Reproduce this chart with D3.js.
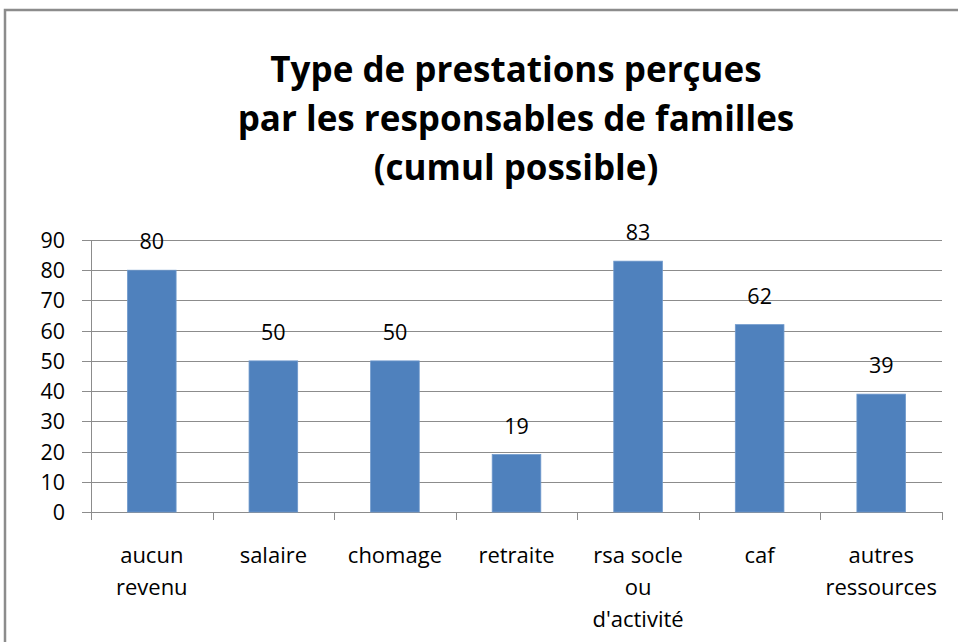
<!DOCTYPE html>
<html><head><meta charset="utf-8">
<script src="https://cdn.jsdelivr.net/npm/d3@7"></script>
<style>body{margin:0;background:#fff}svg{display:block}</style>
</head><body>
<script>
const categories = [["aucun","revenu"],["salaire"],["chomage"],["retraite"],["rsa socle","ou","d'activité"],["caf"],["autres","ressources"]];
const values = [80,50,50,19,83,62,39];
const yTicks = [0,10,20,30,40,50,60,70,80,90];
const titleLines = ["Type de prestations perçues","par les responsables de familles","(cumul possible)"];

const W=958,H=642;
const svg=d3.select("body").append("svg").attr("width",W).attr("height",H);
const font="'Open Sans', sans-serif";
svg.append("rect").attr("x",5).attr("y",10).attr("width",W+10).attr("height",H+10).attr("fill","#fff").attr("stroke","#8c8c8c").attr("stroke-width",2.5);

const pLeft=91,pRight=942,pTop=240,pBottom=512;
const x=d3.scaleBand().domain(d3.range(values.length)).range([pLeft,pRight]).paddingInner(0.6).paddingOuter(0.3);
const y=d3.scaleLinear().domain([0,90]).range([pBottom,pTop]);

// title
svg.append("g").selectAll("text").data(titleLines).join("text")
 .attr("x",516).attr("y",(d,i)=>82+i*49).attr("text-anchor","middle")
 .attr("font-family",font).attr("font-weight","bold").attr("font-size",35).attr("fill","#000")
 .text(d=>d);

// gridlines
svg.append("g").selectAll("line").data(yTicks).join("line")
 .attr("x1",82).attr("x2",pRight).attr("y1",d=>Math.round(y(d))+0.5).attr("y2",d=>Math.round(y(d))+0.5)
 .attr("stroke","#8c8c8c").attr("stroke-width",1);
// y axis line
svg.append("line").attr("x1",pLeft+0.5).attr("x2",pLeft+0.5).attr("y1",pTop).attr("y2",pBottom+8).attr("stroke","#8c8c8c");
// x ticks
const band=(pRight-pLeft)/values.length;
svg.append("g").selectAll("line").data(d3.range(values.length+1)).join("line")
 .attr("x1",d=>Math.round(pLeft+d*band)+0.5).attr("x2",d=>Math.round(pLeft+d*band)+0.5)
 .attr("y1",pBottom).attr("y2",pBottom+8).attr("stroke","#8c8c8c");
// y labels
svg.append("g").selectAll("text").data(yTicks).join("text")
 .attr("x",65).attr("y",d=>y(d)+8).attr("text-anchor","end")
 .attr("font-family",font).attr("font-size",21.5).attr("fill","#000").text(d=>d);
// bars
svg.append("g").selectAll("rect").data(values).join("rect")
 .attr("x",(d,i)=>x(i)).attr("width",x.bandwidth()).attr("y",d=>y(d)).attr("height",d=>pBottom-y(d))
 .attr("fill","#4f81bd").attr("stroke","#6f99cc").attr("stroke-width",0.8);
// value labels
svg.append("g").selectAll("text").data(values).join("text")
 .attr("x",(d,i)=>x(i)+x.bandwidth()/2).attr("y",d=>y(d)-21).attr("text-anchor","middle")
 .attr("font-family",font).attr("font-size",21.5).attr("fill","#000").text(d=>d);
// category labels
const cg=svg.append("g").selectAll("text").data(categories).join("text")
 .attr("x",(d,i)=>x(i)+x.bandwidth()/2).attr("y",563).attr("text-anchor","middle")
 .attr("font-family",font).attr("font-size",22).attr("fill","#000");
cg.selectAll("tspan").data(d=>d).join("tspan").attr("x",function(){return this.parentNode.getAttribute("x");})
 .attr("dy",(d,i)=>i?32:0).text(d=>d);
</script>
</body></html>
